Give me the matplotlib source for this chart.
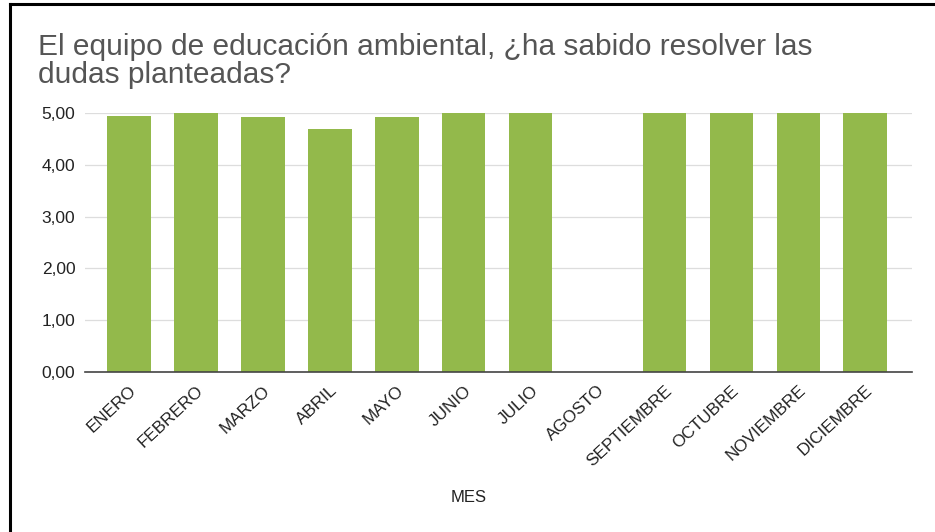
import matplotlib
matplotlib.use("Agg")
import matplotlib.pyplot as plt
from matplotlib.lines import Line2D

months = ["ENERO", "FEBRERO", "MARZO", "ABRIL", "MAYO", "JUNIO", "JULIO",
          "AGOSTO", "SEPTIEMBRE", "OCTUBRE", "NOVIEMBRE", "DICIEMBRE"]
values = [4.95, 5.00, 4.92, 4.70, 4.92, 5.00, 5.00, 0.0, 5.00, 5.00, 5.00, 5.00]
yticks = [0, 1, 2, 3, 4, 5]
ytick_labels = ["0,00", "1,00", "2,00", "3,00", "4,00", "5,00"]
title = "El equipo de educación ambiental, ¿ha sabido resolver las\ndudas planteadas?"
xlabel = "MES"

plt.rcParams['font.family'] = ['Liberation Sans', 'DejaVu Sans']

W, H = 935, 532
fig = plt.figure(figsize=(W / 100, H / 100), dpi=100)
ax = fig.add_axes([85 / W, 1 - 371.7 / H, (912 - 85) / W, (371.7 - 113.3) / H])

x = list(range(len(months)))
ax.bar(x, values, width=0.65, color="#93b94b", zorder=2)

ax.set_xlim(-0.66, 11.7)
ax.set_ylim(0, 5)
ax.set_yticks(yticks)
ax.set_yticklabels(ytick_labels, fontsize=12.5, color="#222222")
ax.set_xticks(x)
ax.set_xticklabels(months, rotation=43, ha="right", va="top", rotation_mode="anchor",
                   fontsize=12.3, color="#222222")
ax.tick_params(axis="both", length=0)
ax.tick_params(axis="y", pad=7)
ax.tick_params(axis="x", pad=8)
ax.grid(axis="y", color="#dddddd", linewidth=0.9, zorder=0)
ax.set_axisbelow(True)
for s in ["top", "right", "left"]:
    ax.spines[s].set_visible(False)
ax.spines["bottom"].set_color("#444444")
ax.spines["bottom"].set_linewidth(1.2)
ax.spines["bottom"].set_zorder(3)

fig.text(38 / W, 1 - 33 / H, title, fontsize=21.5, color="#555555",
         ha="left", va="top", linespacing=0.98)
fig.text(469 / W, 1 - 497 / H, xlabel, fontsize=12, color="#222222",
         ha="center", va="center")

# frame lines (top and left)
fig.add_artist(Line2D([10 / W, 1], [1 - 4 / H, 1 - 4 / H], transform=fig.transFigure,
                      color="black", linewidth=2.2))
fig.add_artist(Line2D([10 / W, 10 / W], [0, 1 - 4 / H], transform=fig.transFigure,
                      color="black", linewidth=2.2))

fig.savefig("out.png", dpi=100)
